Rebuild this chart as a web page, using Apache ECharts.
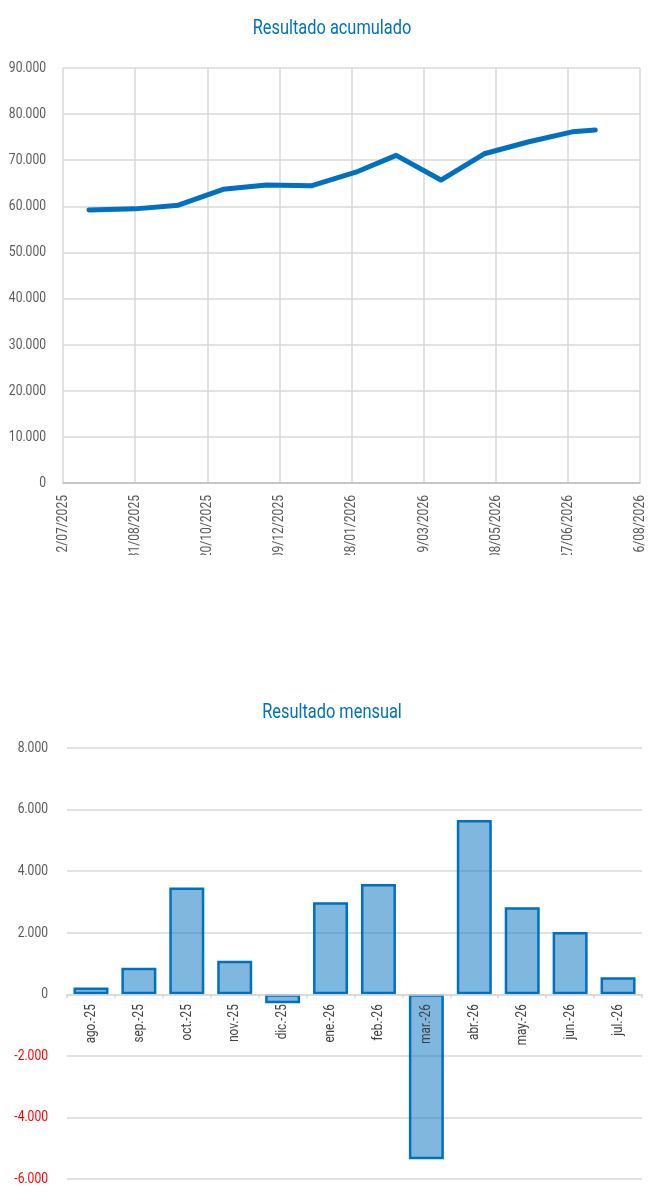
<!DOCTYPE html>
<html>
<head>
<meta charset="utf-8">
<script src="https://cdn.jsdelivr.net/npm/echarts@6/dist/echarts.min.js"></script>
<style>
  html, body { margin: 0; padding: 0; background: #ffffff; }
  #c1 { position: absolute; left: 0; top: 0; width: 664px; height: 555px; }
  #c2 { position: absolute; left: 0; top: 555px; width: 664px; height: 645px; }
</style>
</head>
<body>
<div id="c1"></div>
<div id="c2"></div>
<script>
// ---- Data: cumulative result ----
const cumDates = ['2025-07-30', '2025-08-31', '2025-09-30', '2025-10-31', '2025-11-30', '2025-12-31',
                  '2026-01-31', '2026-02-28', '2026-03-31', '2026-04-30', '2026-05-31', '2026-06-30', '2026-07-16'];
const cumValues = [59200, 59450, 60250, 63700, 64650, 64450, 67400, 71050, 65700, 71400, 74000, 76150, 76550];
const cumAxisStart = '2025-07-12';
const cumAxisDays = 400;
const cumAxisStepDays = 50;

// ---- Data: monthly result ----
const months = ['ago.-25', 'sep.-25', 'oct.-25', 'nov.-25', 'dic.-25', 'ene.-26',
                'feb.-26', 'mar.-26', 'abr.-26', 'may.-26', 'jun.-26', 'jul.-26'];
const monthlyValues = [220, 860, 3470, 1090, -290, 2990, 3580, -5360, 5660, 2830, 2020, 550];
const monthlyMin = -6000, monthlyMax = 8000, monthlyStep = 2000;

// ---- Condensed text look (horizontal squeeze of real canvas text) ----
(function () {
  const SX = 0.78;
  const P = CanvasRenderingContext2D.prototype;
  const oFill = P.fillText, oStroke = P.strokeText, oMeasure = P.measureText;
  P.fillText = function (t, x, y, mw) {
    this.save(); this.translate(x, y); this.scale(SX, 1); oFill.call(this, t, 0, 0); this.restore();
  };
  P.strokeText = function (t, x, y, mw) {
    this.save(); this.translate(x, y); this.scale(SX, 1); oStroke.call(this, t, 0, 0); this.restore();
  };
  P.measureText = function (t) {
    const m = oMeasure.call(this, t);
    return {
      width: m.width * SX,
      actualBoundingBoxLeft: m.actualBoundingBoxLeft * SX,
      actualBoundingBoxRight: m.actualBoundingBoxRight * SX,
      actualBoundingBoxAscent: m.actualBoundingBoxAscent,
      actualBoundingBoxDescent: m.actualBoundingBoxDescent,
      fontBoundingBoxAscent: m.fontBoundingBoxAscent,
      fontBoundingBoxDescent: m.fontBoundingBoxDescent
    };
  };
})();

const FONT = "Roboto, 'Noto Sans', sans-serif";
const DAY = 86400000;
function toUTC(s) { const p = s.split('-'); return Date.UTC(+p[0], +p[1] - 1, +p[2]); }
const base = toUTC(cumAxisStart);
function dayOffset(s) { return Math.round((toUTC(s) - base) / DAY); }
function fmtDate(off) {
  const d = new Date(base + off * DAY);
  const dd = String(d.getUTCDate()).padStart(2, '0');
  const mm = String(d.getUTCMonth() + 1).padStart(2, '0');
  return dd + '/' + mm + '/' + d.getUTCFullYear();
}
function fmtNum(v) {
  const neg = v < 0;
  const s = String(Math.abs(Math.round(v))).replace(/\B(?=(\d{3})+(?!\d))/g, '.');
  return (neg ? '-' : '') + s;
}

const gridColor = '#d9d9d9';

const chart1 = echarts.init(document.getElementById('c1'));
chart1.setOption({
  animation: false,
  title: {
    text: 'Resultado acumulado', left: 'center', top: 16,
    textStyle: { fontFamily: FONT, fontSize: 21, fontWeight: 'normal', color: '#0070C0' }
  },
  grid: { left: 63, right: 24, top: 68, bottom: 72, outerBoundsMode: 'none', containLabel: false },
  xAxis: {
    type: 'value', min: 0, max: cumAxisDays, interval: cumAxisStepDays,
    axisLine: { show: true, onZero: false, lineStyle: { color: '#bfbfbf', width: 1.5 } },
    axisTick: { show: false },
    splitLine: { show: true, lineStyle: { color: gridColor, width: 1.5 } },
    axisLabel: {
      rotate: 90, margin: 12, fontFamily: FONT, fontSize: 15.5, color: '#595959',
      formatter: v => fmtDate(v), showMinLabel: true, showMaxLabel: true
    }
  },
  yAxis: {
    type: 'value', min: 0, max: 90000, interval: 10000,
    axisLine: { show: false }, axisTick: { show: false },
    splitLine: { show: true, lineStyle: { color: gridColor, width: 1.5 } },
    axisLabel: { margin: 17, fontFamily: FONT, fontSize: 15.5, color: '#595959', formatter: v => fmtNum(v) }
  },
  series: [{
    type: 'line',
    data: cumDates.map((d, i) => [dayOffset(d), cumValues[i]]),
    showSymbol: false, symbol: 'none',
    lineStyle: { color: '#0070C0', width: 5, cap: 'round', join: 'round' }
  }]
});

const g2 = { left: 67, right: 22, top: 193, bottom: 21 };
const g2Height = 645 - g2.top - g2.bottom;
const zeroOffset = -g2Height * (0 - monthlyMin) / (monthlyMax - monthlyMin);

const chart2 = echarts.init(document.getElementById('c2'));
chart2.setOption({
  animation: false,
  title: {
    text: 'Resultado mensual', left: 'center', top: 145,
    textStyle: { fontFamily: FONT, fontSize: 21, fontWeight: 'normal', color: '#0070C0' }
  },
  grid: Object.assign({ outerBoundsMode: 'none', containLabel: false }, g2),
  xAxis: {
    type: 'category', data: months, offset: zeroOffset,
    axisLine: { show: true, onZero: false, lineStyle: { color: gridColor, width: 1.5 } },
    axisTick: { show: true, length: 4, lineStyle: { color: gridColor, width: 1.5 } },
    axisLabel: { rotate: 90, margin: 10, fontFamily: FONT, fontSize: 15, color: '#404040', interval: 0 },
    z: 5
  },
  yAxis: {
    type: 'value', min: monthlyMin, max: monthlyMax, interval: monthlyStep,
    axisLine: { show: false }, axisTick: { show: false },
    splitLine: { show: true, lineStyle: { color: gridColor, width: 1.5 } },
    axisLabel: {
      margin: 19, fontFamily: FONT, fontSize: 15.5,
      color: v => (v < 0 ? '#FF0000' : '#595959'),
      formatter: v => fmtNum(v)
    }
  },
  series: [{
    type: 'bar', data: monthlyValues, barCategoryGap: '27%',
    itemStyle: { color: 'rgba(0,112,192,0.5)', borderColor: '#0070C0', borderWidth: 2.5 }
  }]
});
</script>
</body>
</html>
